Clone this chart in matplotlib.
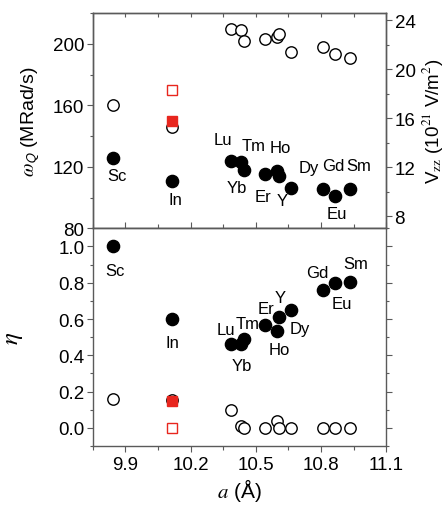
import numpy as np
import matplotlib
matplotlib.use("Agg")
import matplotlib.pyplot as plt
from matplotlib.ticker import MultipleLocator

plt.rcParams['font.family'] = ['Liberation Sans', 'DejaVu Sans']
plt.rcParams['mathtext.fontset'] = 'stix'

# lattice constant a (Angstrom)
names = ['Sc', 'In', 'Lu', 'Tm', 'Yb', 'Er', 'Ho', 'Y', 'Dy', 'Gd', 'Eu', 'Sm']
a = [9.845, 10.114, 10.386, 10.431, 10.448, 10.543, 10.600, 10.606, 10.663, 10.808, 10.865, 10.933]

# omega_Q (MRad/s): filled = site C, open = site D
wq_C = [126.0, 110.5, 123.8, 122.8, 117.8, 115.2, 117.2, 113.7, 106.3, 105.5, 101.2, 105.5]
wq_D = [160.0, 145.9, 209.9, 208.8, 201.7, 203.4, 204.5, 206.6, 194.8, 197.6, 193.5, 190.6]

# asymmetry parameter eta
eta_C = [1.00, 0.60, 0.46, 0.464, 0.49, 0.567, 0.536, 0.61, 0.648, 0.762, 0.796, 0.805]
eta_D = [0.16, 0.151, 0.10, 0.013, 0.0, 0.0, 0.04, 0.0, 0.0, 0.0, 0.0, 0.0]

# red squares for In (other work)
a_red = [10.114]
wq_red_open = [170.1]
wq_red_fill = [149.6]
eta_red_open = [0.0]
eta_red_fill = [0.15]

# label positions (a, value)
lab_top = {'Sc': (9.86, 114.6), 'In': (10.132, 98.9), 'Lu': (10.351, 138.0),
           'Tm': (10.489, 133.7), 'Ho': (10.612, 132.6), 'Dy': (10.742, 119.7),
           'Gd': (10.858, 120.8), 'Sm': (10.975, 120.8), 'Yb': (10.415, 106.5),
           'Er': (10.535, 101.0), 'Y': (10.62, 98.3), 'Eu': (10.873, 89.7)}
lab_bot = {'Sc': (9.853, 0.867), 'In': (10.116, 0.47), 'Lu': (10.363, 0.544),
           'Tm': (10.461, 0.578), 'Yb': (10.438, 0.345), 'Er': (10.547, 0.659),
           'Y': (10.612, 0.716), 'Dy': (10.704, 0.55), 'Ho': (10.609, 0.434),
           'Gd': (10.781, 0.858), 'Eu': (10.896, 0.683), 'Sm': (10.961, 0.904)}

spine_c = '#5a5a5a'

fig = plt.figure(figsize=(4.48, 5.06), dpi=100)
ax1 = fig.add_axes([0.207, 0.5468, 0.655, 0.4255])
ax2 = fig.add_axes([0.207, 0.1166, 0.655, 0.4302], sharex=ax1)

ms_f = 8.8
ms_o = 8.2
for ax, yc, yd, ro, rf in [(ax1, wq_C, wq_D, wq_red_open, wq_red_fill),
                           (ax2, eta_C, eta_D, eta_red_open, eta_red_fill)]:
    ax.plot(a, yd, 'o', ms=ms_o, mfc='white', mec='black', mew=1.0, zorder=3)
    ax.plot(a, yc, 'o', ms=ms_f, color='black', zorder=4)
    ax.plot(a_red, ro, 's', ms=6.5, mfc='white', mec='#e8261e', mew=1.0, zorder=5)
    ax.plot(a_red, rf, 's', ms=7, color='#e8261e', zorder=5)

for n, (x, y) in lab_top.items():
    ax1.text(x, y, n, ha='center', va='center', fontsize=12)
for n, (x, y) in lab_bot.items():
    ax2.text(x, y, n, ha='center', va='center', fontsize=12)

ax1.set_xlim(9.75, 11.1)
ax1.set_ylim(80, 220)
ax2.set_ylim(-0.1, 1.1)

ax2.set_xticks(np.arange(9.9, 11.11, 0.3))
ax2.set_xticklabels(['9.9', '10.2', '10.5', '10.8', '11.1'])
ax2.xaxis.set_minor_locator(MultipleLocator(0.15))
ax1.yaxis.set_major_locator(MultipleLocator(40))
ax1.yaxis.set_minor_locator(MultipleLocator(20))
ax2.yaxis.set_major_locator(MultipleLocator(0.2))
ax2.yaxis.set_minor_locator(MultipleLocator(0.1))

ax1r = ax1.twinx()
ax1r.set_ylim(7.0, 24.6)
ax1r.yaxis.set_major_locator(MultipleLocator(4))
ax1r.yaxis.set_minor_locator(MultipleLocator(2))

for ax in (ax1, ax2, ax1r):
    for s in ax.spines.values():
        s.set_color(spine_c)
        s.set_linewidth(1.0)
    ax.tick_params(which='both', colors=spine_c, labelcolor='black', labelsize=13.5, width=0.8)
    ax.tick_params(which='major', length=4, pad=2)
    ax.tick_params(which='minor', length=2.5)

ax1.tick_params(axis='x', which='both', bottom=False, top=True, direction='in',
                labelbottom=False, length=3)
ax1.tick_params(axis='y', which='both', direction='out', right=False)
ax1r.tick_params(axis='y', which='both', direction='out')
ax2.tick_params(axis='x', which='both', direction='out', top=True)
ax2.tick_params(axis='x', which='both', top=True, length=3)
ax2.tick_params(axis='x', which='major', bottom=True, length=4, pad=3)
ax2.tick_params(axis='y', which='both', direction='out', right=True)

ax1.set_ylabel(r'$\omega_{\mathsf{Q}}$ (MRad/s)', fontsize=14, labelpad=8)
ax1r.set_ylabel(r'V$_{\mathrm{zz}}$ (10$^{21}$ V/m$^{2}$)', fontsize=13.5, rotation=90, labelpad=3)
ax2.set_ylabel(r'$\eta$', fontsize=18, labelpad=24)
ax2.set_xlabel(r'$a$ (Å)', fontsize=15, labelpad=2)

fig.savefig('out.png', dpi=100)
